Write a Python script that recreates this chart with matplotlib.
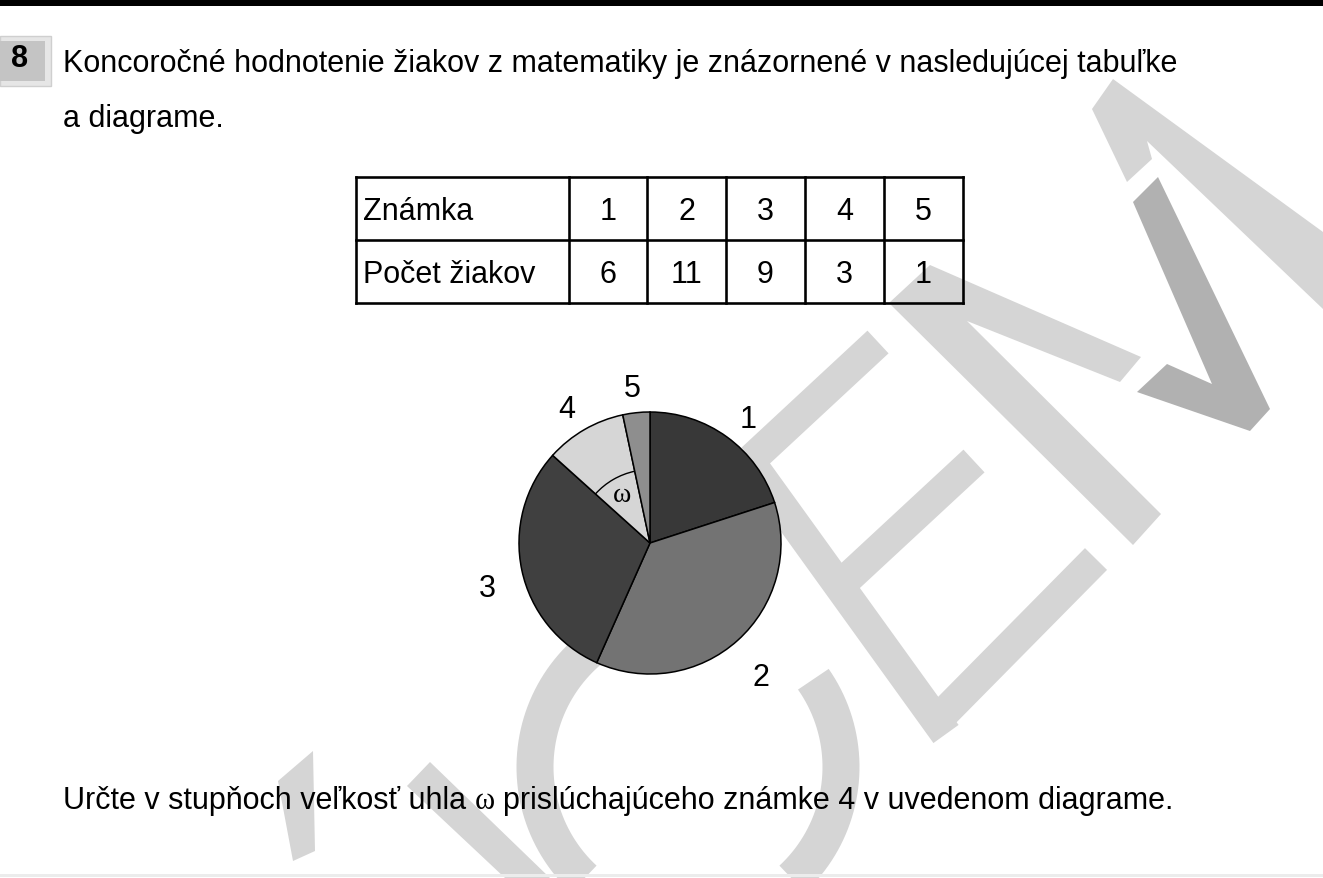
import matplotlib
matplotlib.use("Agg")
import matplotlib.pyplot as plt
from matplotlib.patches import Polygon, Rectangle, Arc
import numpy as np

plt.rcParams['font.family'] = ['Liberation Sans', 'DejaVu Sans']

# data
grades = ['1', '2', '3', '4', '5']
counts = [6, 11, 9, 3, 1]
slice_colors = ['#383838', '#737373', '#404040', '#d6d6d6', '#8e8e8e']
row_headers = ['Známka', 'Počet žiakov']
task_no = '8'
question_lines = ["Koncoročné hodnotenie žiakov z matematiky je znázornené v nasledujúcej tabuľke",
                  "a diagrame."]
answer_parts = ["Určte v stupňoch veľkosť uhla", "ω", "prislúchajúceho známke 4 v uvedenom diagrame."]

W, H = 1323, 879
PT = 0.72          # points per pixel at dpi 100
FS = 22
LIGHT = '#d5d5d5'
DARK = '#b1b1b1'

fig = plt.figure(figsize=(W / 100, H / 100), dpi=100)
bg = fig.add_axes([0, 0, 1, 1])
bg.set_xlim(0, W)
bg.set_ylim(H, 0)
bg.axis('off')

# watermark (background logo), pixel coords
wm_polys = [
    ([(1092, 110), (1113, 80), (1323, 233), (1323, 310), (1147, 142), (1152, 160), (1127, 183)], LIGHT),
    ([(1133, 203), (1158, 178), (1270, 410), (1250, 432), (1137, 393), (1167, 365), (1212, 385)], DARK),
    ([(889, 304), (930, 266), (1141, 358), (1120, 383), (967, 322), (1161, 515), (1133, 546)], LIGHT),
    ([(278, 782), (313, 752), (315, 852), (293, 862)], LIGHT),
    ([(407, 787), (430, 763), (550, 879), (505, 879)], LIGHT),
]
for pts, col in wm_polys:
    bg.add_patch(Polygon(pts, closed=True, facecolor=col, edgecolor='none', zorder=0))

wm_strokes = [
    [(742, 452), (946, 735)],
    [(878, 343), (752, 460)],
    [(974, 462), (836, 590)],
    [(1096, 560), (940, 718)],
]
for seg in wm_strokes:
    xs, ys = zip(*seg)
    bg.plot(xs, ys, color=LIGHT, lw=31 * PT, solid_capstyle='butt', zorder=0)

t = np.radians(np.linspace(35, -265, 300))
bg.plot(688 + 153 * np.cos(t), 768 - 153 * np.sin(t), color=LIGHT, lw=37 * PT,
        solid_capstyle='butt', zorder=0)

# header bar and task number box
bg.add_patch(Rectangle((0, 0), W, 7, facecolor='black', edgecolor='none', zorder=2))
bg.add_patch(Rectangle((0, 37), 51, 50, facecolor='#e6e6e6', edgecolor='#cfcfcf', lw=1, zorder=2))
bg.add_patch(Rectangle((0, 42), 45, 40, facecolor='#c4c4c4', edgecolor='none', zorder=2))
bg.text(20, 59, task_no, fontsize=FS, fontweight='bold', ha='center', va='center', zorder=3)
bg.axhline(876.5, color='#ececec', lw=3 * PT, zorder=1)

# question text
bg.text(63, 72, question_lines[0], fontsize=FS, ha='left', va='baseline', zorder=3)
bg.text(63, 127, question_lines[1], fontsize=FS, ha='left', va='baseline', zorder=3)

# table
col_edges = [356, 569, 647, 726, 805, 884, 963]
row_edges = [178, 241, 304]
tlw = 2.6 * PT
for y in row_edges:
    bg.plot([col_edges[0], col_edges[-1]], [y, y], color='black', lw=tlw, zorder=3)
for x in col_edges:
    bg.plot([x, x], [row_edges[0], row_edges[-1]], color='black', lw=tlw, zorder=3)
row_values = [grades, [str(c) for c in counts]]
for r, (head, vals) in enumerate(zip(row_headers, row_values)):
    base = row_edges[r] + 42
    bg.text(col_edges[0] + 7, base, head, fontsize=FS, ha='left', va='baseline', zorder=3)
    for i, v in enumerate(vals):
        xc = (col_edges[i + 1] + col_edges[i + 2]) / 2
        bg.text(xc, base, v, fontsize=FS, ha='center', va='baseline', zorder=3)

# answer line, omega in serif
renderer = fig.canvas.get_renderer()
x = 63
space = 0.278 * FS / PT
for i, part in enumerate(answer_parts):
    fam = ['Liberation Serif', 'DejaVu Serif'] if part == 'ω' else None
    kw = dict(family=fam) if fam else {}
    txt = bg.text(x, 809, part, fontsize=FS, ha='left', va='baseline', zorder=3, **kw)
    bb = txt.get_window_extent(renderer)
    x += bb.width + space

# pie chart
pcx, pcy, pr = 650, 544, 131
half = 200
pax = fig.add_axes([(pcx - half) / W, (H - pcy - half) / H, 2 * half / W, 2 * half / H])
wedges, labels = pax.pie(counts, colors=slice_colors, startangle=90, counterclock=False,
                         labels=grades, labeldistance=1.27,
                         wedgeprops=dict(edgecolor='black', linewidth=1.1),
                         textprops=dict(fontsize=FS))
for lab in labels:
    lab.set_ha('center')
    lab.set_va('center')
    lx, ly = lab.get_position()
    lab.set_position((lx, ly - 0.08))
pax.set_xlim(-half / pr, half / pr)
pax.set_ylim(-half / pr, half / pr)
pax.set_aspect('equal')
pax.axis('off')

w4 = wedges[3]
pax.add_patch(Arc((0, 0), 1.12, 1.12, theta1=w4.theta1, theta2=w4.theta2, color='black', lw=1.0))
mid = np.radians((w4.theta1 + w4.theta2) / 2)
pax.text(0.43 * np.cos(mid), 0.43 * np.sin(mid), 'ω', fontsize=20, ha='center', va='center',
         family=['Liberation Serif', 'DejaVu Serif'])

fig.savefig('out.png', dpi=100, facecolor='white')
